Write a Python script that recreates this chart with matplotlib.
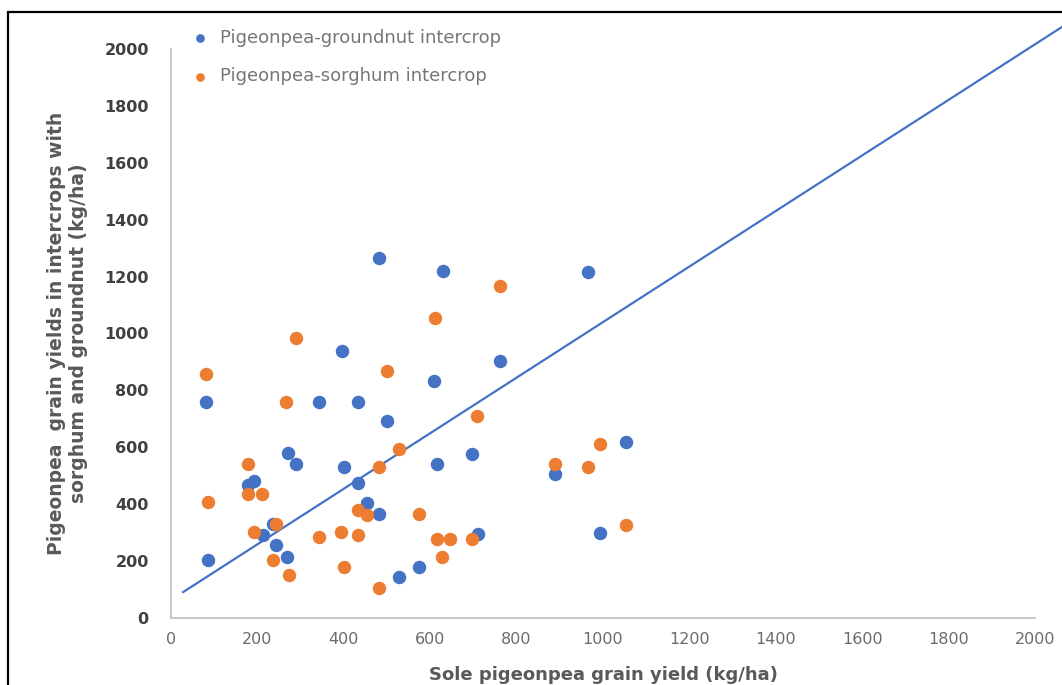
import numpy as np
import matplotlib.pyplot as plt
from matplotlib.patches import Rectangle

# sole pigeonpea yield vs intercrop yield (kg/ha)
gn_x = [86, 81, 271, 289, 400, 192, 178, 433, 236, 213, 243, 268, 396, 343, 433,
        481, 630, 762, 609, 500, 615, 697, 453, 481, 710, 528, 574, 1053, 889, 993, 965]
gn_y = [204, 759, 580, 541, 531, 482, 467, 475, 330, 292, 257, 214, 938, 759, 759,
        1265, 1220, 903, 833, 692, 541, 576, 404, 366, 295, 144, 179, 619, 506, 299, 1216]

sg_x = [178, 86, 178, 211, 243, 192, 343, 394, 433, 433, 236, 273, 400, 81, 289, 266,
        762, 611, 500, 708, 528, 481, 453, 574, 615, 646, 697, 627, 481, 993, 889, 965, 1053]
sg_y = [541, 408, 436, 436, 330, 302, 285, 302, 380, 292, 204, 151, 179, 858, 984, 759,
        1167, 1054, 868, 710, 594, 531, 362, 366, 278, 278, 278, 214, 105, 612, 541, 531, 327]

# trend line end points
line_x = [28, 2062]
line_y = [91, 2077]

blue = '#4472C4'
orange = '#ED7D31'
grey = '#595959'

fig = plt.figure(figsize=(10.62, 6.85), dpi=100, facecolor='w')
ax = fig.add_axes([0.161, 0.0978, 0.8136, 0.8307])

ax.scatter(gn_x, gn_y, s=75, color=blue, label='Pigeonpea-groundnut intercrop', zorder=3)
ax.scatter(sg_x, sg_y, s=75, color=orange, label='Pigeonpea-sorghum intercrop', zorder=3)
ax.plot(line_x, line_y, color=blue, lw=1.6, clip_on=False, zorder=2)

ax.set_xlim(0, 2000)
ax.set_ylim(0, 2000)
ax.set_xticks(np.arange(0, 2001, 200))
ax.set_yticks(np.arange(0, 2001, 200))
for s in ['top', 'right']:
    ax.spines[s].set_visible(False)
for s in ['left', 'bottom']:
    ax.spines[s].set_color('#BFBFBF')
    ax.spines[s].set_linewidth(1.2)
ax.tick_params(axis='x', length=0, pad=10)
ax.tick_params(axis='y', length=0, pad=16)
for lab in ax.get_xticklabels():
    lab.set_fontsize(11.5)
    lab.set_color('#6b6b6b')
for lab in ax.get_yticklabels():
    lab.set_fontsize(11.5)
    lab.set_fontweight('bold')
    lab.set_color('#404040')

ax.set_xlabel('Sole pigeonpea grain yield (kg/ha)', fontsize=13, fontweight='bold',
              color=grey, labelpad=14)
ax.set_ylabel('Pigeonpea  grain yields in intercrops with\nsorghum and groundnut (kg/ha)',
              fontsize=13.5, fontweight='bold', color=grey, labelpad=12)

leg = fig.legend(loc='upper left', bbox_to_anchor=(0.156, 0.982), frameon=False,
                 fontsize=13, markerscale=0.6, handletextpad=0.1, labelspacing=1.15)
for t in leg.get_texts():
    t.set_color('#767676')

# black frame round the figure
fig.patches.append(Rectangle((0.0075, -0.1), 1.1, 1.0825, transform=fig.transFigure,
                             fill=False, edgecolor='black', lw=1.6))

plt.savefig('out.png', dpi=100)
